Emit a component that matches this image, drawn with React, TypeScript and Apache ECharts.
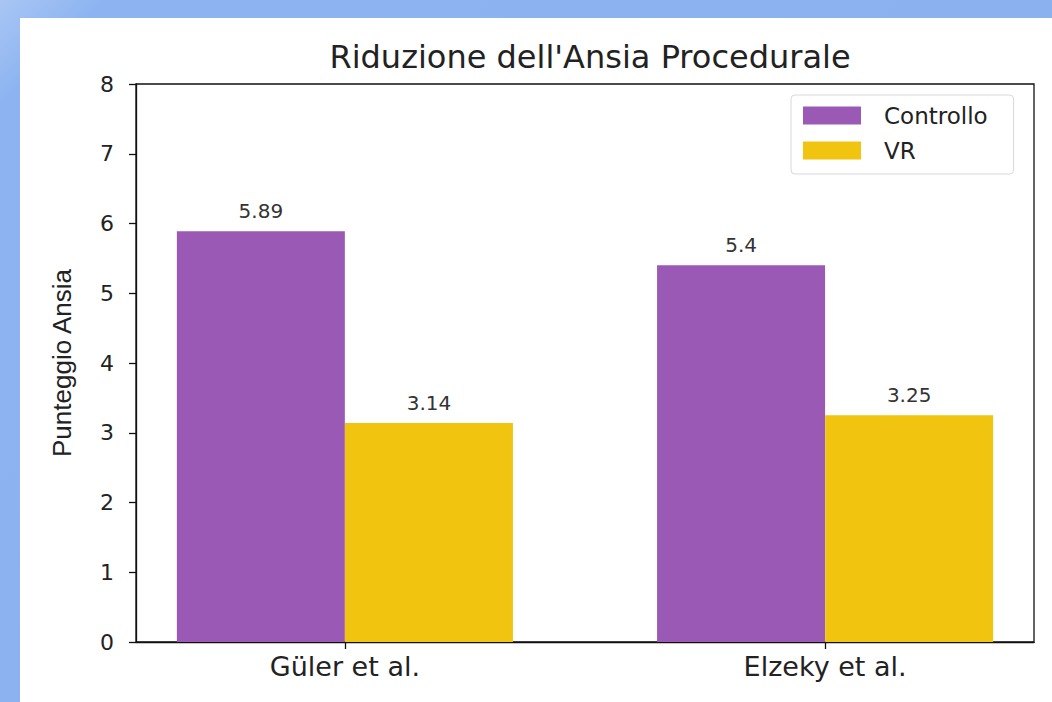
import React, { useEffect, useRef } from "react";
import * as echarts from "echarts";

const categories = ["Güler et al.", "Elzeky et al."];
const seriesNames = ["Controllo", "VR"];
const controlloValues = [5.89, 5.4];
const vrValues = [3.14, 3.25];
const yMin = 0;
const yMax = 8;
const yStep = 1;

const FONT = "'DejaVu Sans', 'Noto Sans', sans-serif";

export default function App() {
  const ref = useRef<HTMLDivElement>(null);

  useEffect(() => {
    if (!ref.current) return;
    const chart = echarts.init(ref.current, undefined, { renderer: "svg" });
    const half = 0.175;
    const catIdx = categories.map((_, i) => i);
    const labelStyle = {
      show: true,
      position: "top",
      distance: 10,
      fontSize: 20,
      color: "#333",
      fontFamily: FONT,
      formatter: (p: any) => String(p.value[1]),
    };
    chart.setOption({
      animation: false,
      title: {
        text: "Riduzione dell'Ansia Procedurale",
        left: 585,
        textAlign: "center",
        top: 36,
        textStyle: { fontSize: 32, fontWeight: "normal", color: "#222", fontFamily: FONT },
      },
      grid: {
        left: 136,
        top: 84,
        right: 18,
        bottom: 60,
        show: true,
        borderColor: "#111",
        borderWidth: 1.3,
        containLabel: false,
      },
      legend: {
        orient: "vertical",
        left: 791,
        top: 95,
        padding: [9, 26, 12, 12],
        itemWidth: 58,
        itemHeight: 18,
        itemGap: 12,
        icon: "rect",
        backgroundColor: "#fff",
        borderColor: "#d8d8d8",
        borderWidth: 1,
        borderRadius: 4,
        textStyle: { fontSize: 23, color: "#222", fontFamily: FONT, padding: [0, 0, 0, 18] },
        data: seriesNames,
      },
      xAxis: {
        type: "value",
        min: -0.435,
        max: 1.435,
        splitLine: { show: false },
        axisLine: { show: true, onZero: false, lineStyle: { color: "#111", width: 1.3 } },
        axisTick: { show: true, customValues: catIdx, length: 7, lineStyle: { color: "#111", width: 1.3 } },
        axisLabel: {
          customValues: catIdx,
          margin: 11,
          fontSize: 27,
          color: "#222",
          fontFamily: FONT,
          formatter: (v: number) => categories[Math.round(v)] ?? "",
        },
      },
      yAxis: {
        type: "value",
        min: yMin,
        max: yMax,
        interval: yStep,
        name: "Punteggio Ansia",
        nameLocation: "middle",
        nameGap: 61,
        nameTextStyle: { fontSize: 26, color: "#222", fontFamily: "'Liberation Sans', Arial, sans-serif" },
        splitLine: { show: false },
        axisLine: { show: true, onZero: false, lineStyle: { color: "#111", width: 1.3 } },
        axisTick: { show: true, length: 7, lineStyle: { color: "#111", width: 1.3 } },
        axisLabel: { margin: 22, fontSize: 22, color: "#222", fontFamily: FONT },
      },
      series: [
        {
          name: seriesNames[0],
          type: "bar",
          barWidth: 168,
          barGap: "-100%",
          itemStyle: { color: "#9b59b6" },
          label: labelStyle,
          data: controlloValues.map((v, i) => [i - half, v]),
        },
        {
          name: seriesNames[1],
          type: "bar",
          barWidth: 168,
          barGap: "-100%",
          itemStyle: { color: "#f1c40f" },
          label: labelStyle,
          data: vrValues.map((v, i) => [i + half, v]),
        },
      ],
    });
    return () => chart.dispose();
  }, []);

  return (
    <div
      style={{
        position: "fixed",
        left: 0,
        top: 0,
        width: 1052,
        height: 702,
        background: "linear-gradient(135deg, #a8c6f5 0%, #8db4f0 6%, #8ab1ef 100%)",
        overflow: "hidden",
      }}
    >
      <div
        style={{
          position: "absolute",
          left: 20,
          top: 18,
          right: 0,
          bottom: 0,
          background: "#fff",
        }}
      />
      <div ref={ref} style={{ position: "absolute", left: 0, top: 0, width: 1052, height: 702 }} />
    </div>
  );
}
